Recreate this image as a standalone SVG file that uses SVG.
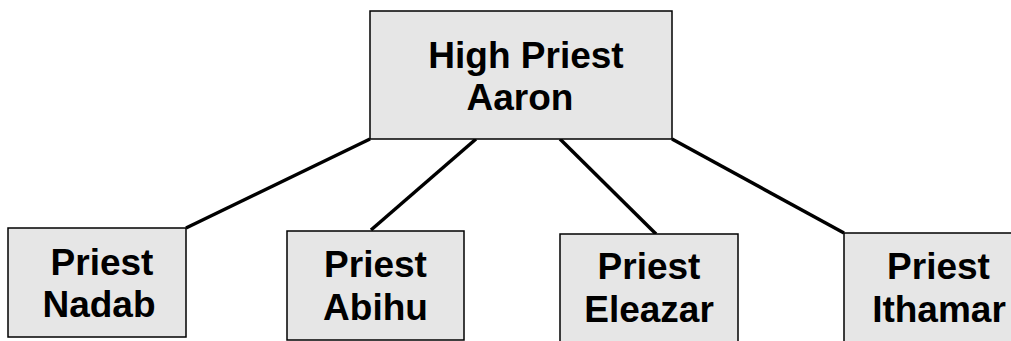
<svg xmlns="http://www.w3.org/2000/svg" width="1011" height="341" viewBox="0 0 1011 341">
<style>
.box{fill:#e6e6e6;stroke:#000;stroke-width:1.5}
.lbl{font-family:"Liberation Sans",Arial,sans-serif;font-weight:bold;font-size:37px;fill:#000;text-anchor:middle}
.edge{stroke:#000;stroke-width:3.5;fill:none}
</style>
<rect width="1011" height="341" fill="#fff"/>
<g id="connectors">
<line class="edge" x1="370" y1="139" x2="186" y2="228"/>
<line class="edge" x1="476" y1="139" x2="371" y2="230"/>
<line class="edge" x1="560" y1="139" x2="656" y2="234"/>
<line class="edge" x1="672" y1="139" x2="844" y2="233"/>
</g>
<g id="aaron">
<rect class="box" x="370" y="11" width="302" height="128"/>
<text class="lbl" x="526" y="68">High Priest</text>
<text class="lbl" x="520" y="110">Aaron</text>
</g>
<g id="nadab">
<rect class="box" x="8" y="228" width="178" height="109"/>
<text class="lbl" x="102" y="275">Priest</text>
<text class="lbl" x="99" y="317">Nadab</text>
</g>
<g id="abihu">
<rect class="box" x="287" y="231" width="177" height="109"/>
<text class="lbl" x="375.5" y="277">Priest</text>
<text class="lbl" x="375.5" y="320">Abihu</text>
</g>
<g id="eleazar">
<rect class="box" x="560" y="234" width="178" height="110"/>
<text class="lbl" x="649" y="279">Priest</text>
<text class="lbl" x="649" y="322">Eleazar</text>
</g>
<g id="ithamar">
<rect class="box" x="844" y="233" width="180" height="110"/>
<text class="lbl" x="938.5" y="279">Priest</text>
<text class="lbl" x="939" y="322">Ithamar</text>
</g>
</svg>
